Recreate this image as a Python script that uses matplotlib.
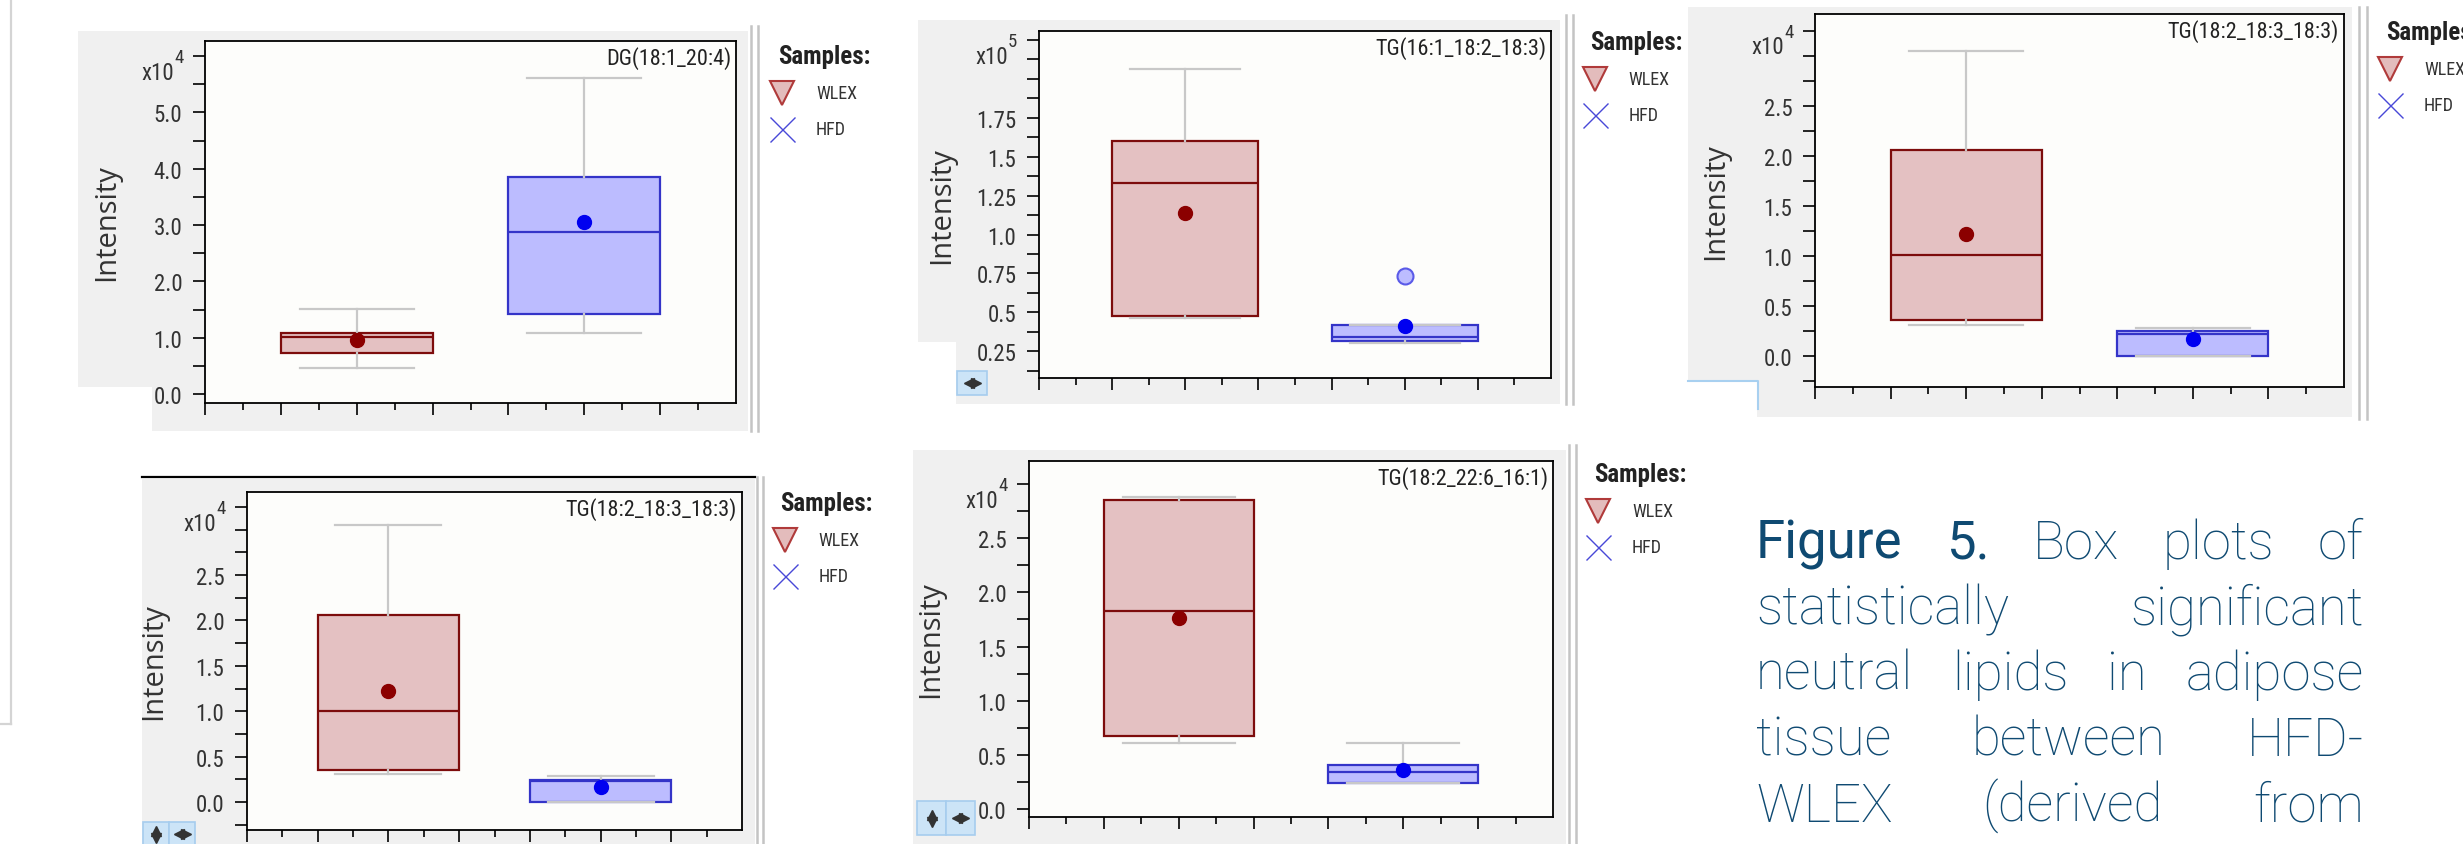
import numpy as np
import matplotlib
matplotlib.use("Agg")
import matplotlib.pyplot as plt
from matplotlib import font_manager
from matplotlib.patches import Rectangle
from matplotlib.lines import Line2D

# ---------------- data (values in units of 10^exponent) ----------------
titles = ["DG(18:1_20:4)", "TG(16:1_18:2_18:3)", "TG(18:2_18:3_18:3)",
          "TG(18:2_18:3_18:3)", "TG(18:2_22:6_16:1)"]
exponents = [4, 5, 4, 4, 4]
groups = ["WLEX", "HFD"]

wlex_whislo = [0.46, 0.464, 0.306, 0.306, 0.607]
wlex_q1 = [0.72, 0.475, 0.356, 0.356, 0.674]
wlex_med = [1.02, 1.332, 1.006, 1.006, 1.831]
wlex_q3 = [1.08, 1.600, 2.063, 2.063, 2.853]
wlex_whishi = [1.51, 2.064, 3.05, 3.05, 2.885]
wlex_mean = [0.96, 1.139, 1.22, 1.22, 1.764]

hfd_whislo = [1.08, 0.303, 0.0, 0.0, 0.237]
hfd_q1 = [1.42, 0.318, 0.0, 0.0, 0.237]
hfd_med = [2.88, 0.340, 0.225, 0.225, 0.338]
hfd_q3 = [3.86, 0.419, 0.246, 0.246, 0.406]
hfd_whishi = [5.62, 0.419, 0.28, 0.28, 0.607]
hfd_mean = [3.06, 0.410, 0.166, 0.166, 0.360]
hfd_outliers = [[], [0.736], [], [], []]

y_ticks = [
    [0.0, 0.5, 1.0, 1.5, 2.0, 2.5, 3.0, 3.5, 4.0, 4.5, 5.0, 5.5, 6.0],
    [0.125, 0.25, 0.375, 0.5, 0.625, 0.75, 0.875, 1.0, 1.125, 1.25, 1.375,
     1.5, 1.625, 1.75, 1.875, 2.0, 2.125, 2.25],
    [-0.25, 0.0, 0.25, 0.5, 0.75, 1.0, 1.25, 1.5, 1.75, 2.0, 2.25, 2.5, 2.75, 3.0, 3.25],
    [-0.25, 0.0, 0.25, 0.5, 0.75, 1.0, 1.25, 1.5, 1.75, 2.0, 2.25, 2.5, 2.75, 3.0, 3.25],
    [0.0, 0.25, 0.5, 0.75, 1.0, 1.25, 1.5, 1.75, 2.0, 2.25, 2.5, 2.75, 3.0],
]
y_labeled = [
    [0.0, 1.0, 2.0, 3.0, 4.0, 5.0],
    [0.25, 0.5, 0.75, 1.0, 1.25, 1.5, 1.75],
    [0.0, 0.5, 1.0, 1.5, 2.0, 2.5],
    [0.0, 0.5, 1.0, 1.5, 2.0, 2.5],
    [0.0, 0.5, 1.0, 1.5, 2.0, 2.5],
]
exp_tick = [6.0, 2.25, 3.25, 3.25, 3.0]
y_label_text = "Intensity"
legend_title = "Samples:"

caption_lines = [["Figure", "5.", "Box", "plots", "of"],
                 ["statistically", "significant"],
                 ["neutral", "lipids", "in", "adipose"],
                 ["tissue", "between", "HFD-"],
                 ["WLEX", "(derived", "from"]]

# ---------------- layout (pixels, top-left origin) ----------------
W, H = 2463, 845
axes_px = [(205, 42, 736, 404), (1039, 31.7, 1551, 379), (1815, 15, 2344, 388),
           (247, 492.7, 742, 831), (1029, 461.7, 1553, 818.3)]
ylims = [(-0.16, 6.27), (0.078, 2.31), (-0.31, 3.42), (-0.31, 3.42), (-0.077, 3.216)]
ylabel_off = [98, 97, 99, 93, 98]
gray_rects = [(78, 32, 748, 388), (152, 386, 748, 432),
              (917.6, 20.7, 1560, 343), (956, 341, 1560, 405),
              (1687.5, 8.3, 2352, 382), (1757, 380, 2352, 418),
              (142, 480, 755, 845), (912.7, 450.7, 1566, 845)]
separators = [(751, 758, 27, 432), (1566, 1572.5, 16, 405), (2359, 2367, 8, 420),
              (756.5, 763, 478, 845), (1569, 1576, 446, 845)]
legend_pos = [(782, 94), (1594.5, 80), (2390, 70), (784.5, 541), (1598, 512)]

fig = plt.figure(figsize=(W / 100, H / 100), dpi=100)
fig.patch.set_facecolor("white")

names = {f.name for f in font_manager.fontManager.ttflist}
if "Roboto Condensed" in names:
    COND = dict(family="Roboto Condensed")
elif any(f.name == "DejaVu Sans" and "condensed" in str(f.stretch) for f in font_manager.fontManager.ttflist):
    COND = dict(family="DejaVu Sans", stretch="condensed")
elif "Liberation Sans Narrow" in names:
    COND = dict(family="Liberation Sans Narrow")
else:
    COND = dict(family="Roboto")
UI = dict(family="Open Sans") if "Open Sans" in names else dict(family="DejaVu Sans")


def fxp(x):
    return x / W


def fyp(y):
    return 1 - y / H


def rect_px(x0, y0, x1, y1, **kw):
    r = Rectangle((fxp(x0), fyp(y1)), (x1 - x0) / W, (y1 - y0) / H,
                  transform=fig.transFigure, **kw)
    fig.add_artist(r)
    return r


def line_px(xs, ys, **kw):
    ln = Line2D([fxp(x) for x in xs], [fyp(y) for y in ys], transform=fig.transFigure, **kw)
    fig.add_artist(ln)
    return ln


# background decorations
for r in gray_rects:
    rect_px(*r, facecolor="#f0f0f0", edgecolor="none", zorder=-5)
line_px([11, 11], [0, 725], color="#d4d4d4", lw=1.6, zorder=-4)
line_px([0, 11], [725, 725], color="#d4d4d4", lw=1.6, zorder=-4)
line_px([142, 755], [478, 478], color="black", lw=1.6, zorder=-3)
rect_px(1687.5, 382, 1758, 410, facecolor="white", edgecolor="none", zorder=-4)
line_px([1687.5, 1758, 1758], [382, 382, 410], color="#a8d0f0", lw=1.5, zorder=-3)
for x1, x2, y0, y1 in separators:
    line_px([x1, x1], [y0, y1], color="#c4c4c4", lw=1.8, zorder=-3)
    line_px([x2, x2], [y0, y1], color="#c4c4c4", lw=1.8, zorder=-3)


def button(x0, y0, x1, y1, kind):
    rect_px(x0, y0, x1, y1, facecolor="#cce4f7", edgecolor="#a6cdee", lw=1.2, zorder=-2)
    cx, cy = (x0 + x1) / 2, (y0 + y1) / 2
    if kind == "lr":
        line_px([cx - 3.5], [cy], marker="<", ms=6.5, color="#333", lw=0, zorder=-1)
        line_px([cx + 3.5], [cy], marker=">", ms=6.5, color="#333", lw=0, zorder=-1)
    else:
        line_px([cx], [cy - 3.5], marker="^", ms=6.5, color="#333", lw=0, zorder=-1)
        line_px([cx], [cy + 3.5], marker="v", ms=6.5, color="#333", lw=0, zorder=-1)


button(957, 372, 987, 396, "lr")
button(143, 823, 169, 847, "ud")
button(169, 823, 195, 847, "lr")
button(917, 802, 946, 836, "ud")
button(946, 802, 975, 836, "lr")


def fmt(v):
    s = f"{v:.2f}".rstrip("0")
    if s.endswith("."):
        s += "0"
    return s


wlex_style = dict(fill="#e4c1c2", edge="#7d0c0c", mean="#8b0000")
hfd_style = dict(fill="#bcbcff", edge="#3434c8", mean="#0000f0")

for i in range(5):
    x0, y0, x1, y1 = axes_px[i]
    ax = fig.add_axes([fxp(x0), fyp(y1), (x1 - x0) / W, (y1 - y0) / H])
    ax.set_facecolor("#fdfdfb")
    for sp in ax.spines.values():
        sp.set_color("black")
        sp.set_linewidth(1.3)

    stats_w = dict(med=wlex_med[i], q1=wlex_q1[i], q3=wlex_q3[i], whislo=wlex_whislo[i],
                   whishi=wlex_whishi[i], mean=wlex_mean[i], fliers=np.array([]), label=groups[0])
    stats_h = dict(med=hfd_med[i], q1=hfd_q1[i], q3=hfd_q3[i], whislo=hfd_whislo[i],
                   whishi=hfd_whishi[i], mean=hfd_mean[i], fliers=np.array(hfd_outliers[i]),
                   label=groups[1])
    for pos, st, sty in ((1, stats_w, wlex_style), (2, stats_h, hfd_style)):
        ax.bxp([st], positions=[pos], widths=2 / 3, capwidths=0.5, patch_artist=True,
               showmeans=True, showfliers=True, manage_ticks=False,
               boxprops=dict(facecolor=sty["fill"], edgecolor=sty["edge"], linewidth=1.6),
               medianprops=dict(color=sty["edge"], linewidth=1.6),
               whiskerprops=dict(color="#c8c8c8", linewidth=1.6),
               capprops=dict(color="#c8c8c8", linewidth=1.6),
               meanprops=dict(marker="o", markerfacecolor=sty["mean"],
                              markeredgecolor=sty["mean"], markersize=10),
               flierprops=dict(marker="o", markerfacecolor="#bcbcff",
                               markeredgecolor="#5a5ae8", markersize=11.5,
                               markeredgewidth=1.5))

    ax.set_xlim(1 / 3, 8 / 3)
    ax.set_ylim(*ylims[i])
    ax.set_xticks([k / 3 for k in range(1, 8)])
    ax.set_xticks([(2 * k + 1) / 6 for k in range(1, 8)], minor=True)
    ax.tick_params(axis="x", which="major", direction="out", length=8.5, width=1.2,
                   labelbottom=False, color="black")
    ax.tick_params(axis="x", which="minor", direction="out", length=5, width=1.2,
                   color="black")
    labs = [fmt(v) if any(abs(v - u) < 1e-9 for u in y_labeled[i]) else "" for v in y_ticks[i]]
    ax.set_yticks(y_ticks[i], labels=labs, fontsize=16.5, color="#333333", **COND)
    ax.tick_params(axis="y", direction="out", length=8.3, width=1.2, pad=8, color="black")

    ax.set_ylabel(y_label_text, fontsize=21, color="#333333", va="center", **UI)
    ax.yaxis.set_label_coords(-ylabel_off[i] / (x1 - x0), 0.5)

    ax.annotate(titles[i], xy=(1, 1), xycoords="axes fraction", xytext=(-5, -5),
                textcoords="offset pixels", ha="right", va="top", fontsize=16,
                color="#222222", **COND)
    ax.annotate("x10", xy=(0, exp_tick[i]), xycoords=("axes fraction", "data"),
                xytext=(-31, -16), textcoords="offset pixels", ha="right",
                va="center", fontsize=16.5, color="#333333", **COND)
    ax.annotate(str(exponents[i]), xy=(0, exp_tick[i]), xycoords=("axes fraction", "data"),
                xytext=(-31, -1), textcoords="offset pixels", ha="left",
                va="center", fontsize=13.5, color="#333333", **COND)

    # legend
    lx, ly = legend_pos[i]
    fig.text(fxp(lx - 4), fyp(ly - 37), legend_title, fontsize=18, fontweight="bold",
             color="#222222", ha="left", va="center", **COND)
    line_px([lx], [ly], marker="v", ms=17, markerfacecolor="#e3bcbc",
            markeredgecolor="#b03a3a", markeredgewidth=1.5, lw=0)
    line_px([lx], [ly + 36], marker="x", ms=18, color="#4848d8",
            markeredgewidth=1.0, lw=0)
    fig.text(fxp(lx + 34), fyp(ly), groups[0], fontsize=13, color="#333333",
             ha="left", va="center", **COND)
    fig.text(fxp(lx + 34), fyp(ly + 36), groups[1], fontsize=13, color="#333333",
             ha="left", va="center", **COND)

# ---------------- caption (justified) ----------------
cap_left, cap_right = 1756, 2364
baselines = [559, 625, 690, 756, 822]
cap_color = "#0f4a72"
renderer = fig.canvas.get_renderer()
for li, words in enumerate(caption_lines):
    txts = []
    for wi, w in enumerate(words):
        bold = (li == 0 and wi < 2)
        t = fig.text(0, fyp(baselines[li]), w, fontsize=38, family="Roboto",
                     fontweight=("normal" if bold else "light"), color=cap_color,
                     ha="left", va="baseline")
        txts.append(t)
    widths = [t.get_window_extent(renderer).width for t in txts]
    gap = (cap_right - cap_left - sum(widths)) / max(len(words) - 1, 1)
    x = cap_left
    for t, wd in zip(txts, widths):
        t.set_x(fxp(x))
        x += wd + gap

fig.savefig("out.png", dpi=100, facecolor="white")
